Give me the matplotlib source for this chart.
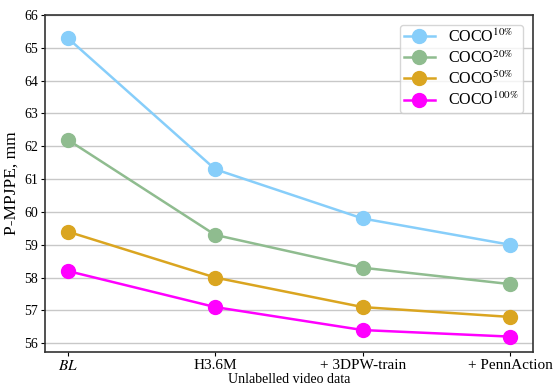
import numpy as np
import matplotlib
matplotlib.use("Agg")
import matplotlib.pyplot as plt

plt.rcParams['font.family'] = ['Liberation Serif', 'DejaVu Serif']
plt.rcParams['mathtext.fontset'] = 'stix'

categories = ['BL', 'H3.6M', '+ 3DPW-train', '+ PennAction']
coco10 = [65.3, 61.3, 59.8, 59.0]
coco20 = [62.2, 59.3, 58.3, 57.8]
coco50 = [59.4, 58.0, 57.1, 56.8]
coco100 = [58.2, 57.1, 56.4, 56.2]

series = [
    (coco10, 'lightskyblue', r'COCO$^{10\%}$'),
    (coco20, 'darkseagreen', r'COCO$^{20\%}$'),
    (coco50, 'goldenrod', r'COCO$^{50\%}$'),
    (coco100, 'magenta', r'COCO$^{100\%}$'),
]

fig = plt.figure(figsize=(5.54, 3.86), dpi=100)
ax = fig.add_axes([0.081, 0.088, 0.881, 0.873])

x = np.arange(len(categories))
for vals, col, lab in series:
    ax.plot(x, vals, '-o', color=col, lw=1.8, ms=10, label=lab)

ax.set_xlim(-0.155, 3.155)
ax.set_ylim(55.73, 66)
ax.set_yticks(np.arange(56, 67, 1))
ax.set_xticks(x)
ax.set_xticklabels([r'$\it{BL}$'] + categories[1:])
ax.grid(axis='y', color='#c8c8c8', lw=1)
ax.set_axisbelow(True)
for s in ax.spines.values():
    s.set_color('#333333')
    s.set_linewidth(1.2)
ax.tick_params(axis='x', labelsize=11, length=3, pad=2)
ax.tick_params(axis='y', labelsize=10, length=3, pad=2)
ax.set_ylabel('P-MPJPE, mm', fontsize=12.5, labelpad=3)
ax.set_xlabel('Unlabelled video data', fontsize=10, labelpad=0)
ax.legend(loc='upper right', fontsize=11.5, handlelength=2.0, labelspacing=0.25,
          borderpad=0.25, borderaxespad=0.6)

fig.savefig('out.png', dpi=100)
